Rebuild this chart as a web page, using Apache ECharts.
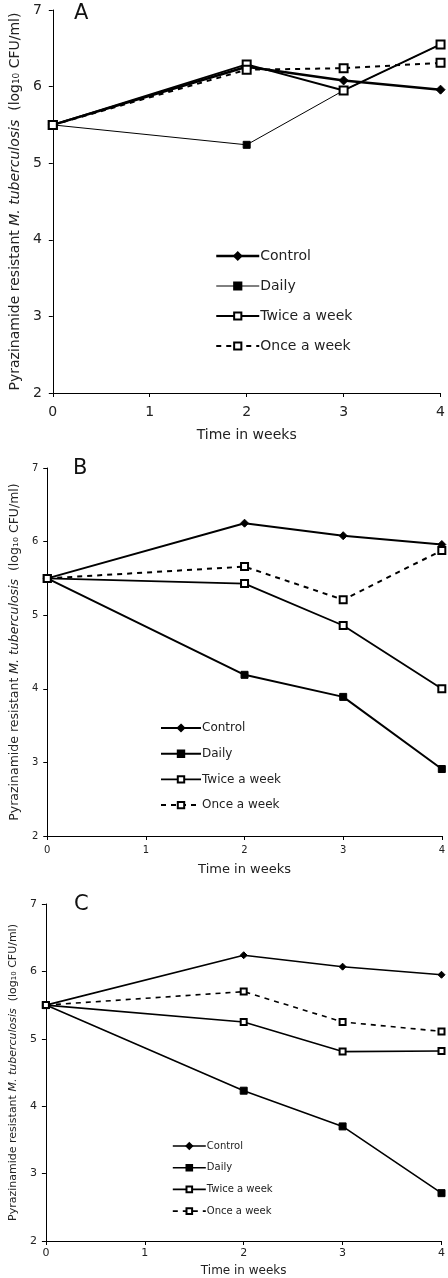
<!DOCTYPE html>
<html><head><meta charset="utf-8">
<script src="https://cdn.jsdelivr.net/npm/echarts@6/dist/echarts.min.js"></script>
<style>html,body{margin:0;padding:0;background:#fff}#c{width:448px;height:1278px}</style>
</head><body><div id="c"></div>
<script>
const weeks = [0, 2, 3, 4];
const xTicks = [0, 1, 2, 3, 4];
const seriesNames = ['Control', 'Daily', 'Twice a week', 'Once a week'];
// Panel A
const A_control = [5.5, 6.26, 6.08, 5.96];
const A_daily   = [5.5, 5.24, 5.95, 6.55];
const A_twice   = [5.5, 6.29, 5.95, 6.55];
const A_once    = [5.5, 6.22, 6.24, 6.31];
// Panel B
const B_control = [5.5, 6.25, 6.08, 5.96];
const B_daily   = [5.5, 4.19, 3.89, 2.91];
const B_twice   = [5.5, 5.43, 4.86, 4.0];
const B_once    = [5.5, 5.66, 5.21, 5.88];
// Panel C
const C_control = [5.5, 6.24, 6.07, 5.95];
const C_daily   = [5.5, 4.23, 3.70, 2.71];
const C_twice   = [5.5, 5.25, 4.81, 4.82];
const C_once    = [5.5, 5.70, 5.25, 5.11];

const panels = [
  {label:'A', data:[A_control,A_daily,A_twice,A_once], grid:{left:48,top:10,width:393,height:383},
   tick:14, name:14, yname:14, nameGapX:35, nameGapY:23, labMargin:12, yMargin:11,
   lw:[2.5,1,2,2], sym:[9,7,8,8], leg:{left:215,top:249,w:43,h:9,gap:16,font:14}, lab:{x:74,y:3,f:21}},
  {label:'B', data:[B_control,B_daily,B_twice,B_once], grid:{left:39,top:468,width:404,height:368},
   tick:10, name:13, yname:12.5, nameGapX:27, nameGapY:17, labMargin:9, yMargin:9,
   lw:[2,2,1.8,2], sym:[8,7,7,7], leg:{left:160,top:722,w:40,h:8,gap:13.7,font:12}, lab:{x:73,y:458,f:21}},
  {label:'C', data:[C_control,C_daily,C_twice,C_once], grid:{left:38,top:904,width:406,height:339},
   tick:11, name:12, yname:11, nameGapX:24, nameGapY:19, labMargin:7, yMargin:9,
   lw:[1.6,1.6,1.6,1.6], sym:[7,7,6,6], leg:{left:172,top:1141,w:33,h:7,gap:11.7,font:10}, lab:{x:74,y:894,f:21}}
];

const symbols = ['diamond','rect','emptyRect','emptyRect'];
const FONT = 'DejaVu Sans';
const opt = {backgroundColor:'#fff', animation:false, grid:[], xAxis:[], yAxis:[], series:[], legend:[], graphic:[]};

panels.forEach((p, i) => {
  opt.grid.push(Object.assign({containLabel:false}, p.grid));
  opt.xAxis.push({type:'value', gridIndex:i, min:0, max:4, interval:1,
    name:'Time in weeks', nameLocation:'middle', nameGap:p.nameGapX,
    nameTextStyle:{fontFamily:FONT, fontSize:p.name, color:'#222'},
    axisLine:{show:true, onZero:false, lineStyle:{color:'#000', width:1}},
    axisTick:{show:true, length:4, lineStyle:{color:'#000'}},
    axisLabel:{fontFamily:FONT, fontSize:p.tick, color:'#222', margin:p.labMargin, formatter:v => xTicks.includes(v) ? String(v) : ''},
    splitLine:{show:false}});
  opt.yAxis.push({type:'value', gridIndex:i, min:2, max:7, interval:1,
    name:'{a|Pyrazinamide resistant }{i|M. tuberculosis}{a|  (log₁₀ CFU/ml)}',
    nameLocation:'middle', nameGap:p.nameGapY, nameRotate:90,
    nameTextStyle:{fontFamily:FONT, fontSize:p.yname, color:'#222',
      rich:{a:{fontFamily:FONT, fontSize:p.yname, color:'#222'}, i:{fontFamily:FONT, fontSize:p.yname, fontStyle:'italic', color:'#222'}}},
    axisLine:{show:true, lineStyle:{color:'#000', width:1}},
    axisTick:{show:true, length:4, lineStyle:{color:'#000'}},
    axisLabel:{fontFamily:FONT, fontSize:p.tick, color:'#222', margin:p.yMargin},
    splitLine:{show:false}});
  const legData = [];
  seriesNames.forEach((n, k) => {
    const ls = {color:'#000', width:p.lw[k], type: k === 3 ? [5,5] : 'solid'};
    opt.series.push({type:'line', name:n, xAxisIndex:i, yAxisIndex:i,
      data: weeks.map((w, j) => [w, p.data[k][j]]),
      symbol:symbols[k], symbolSize:p.sym[k], showSymbol:true,
      lineStyle:ls, itemStyle:{color:'#000', borderColor:'#000', borderWidth:1}, z:2+k});
    legData.push({name:n, lineStyle:ls});
  });
  opt.legend.push({orient:'vertical', left:p.leg.left, top:p.leg.top, padding:0,
    itemWidth:p.leg.w, itemHeight:p.leg.h, itemGap:p.leg.gap, selectedMode:false,
    data:legData, textStyle:{fontFamily:FONT, fontSize:p.leg.font, color:'#222', padding:[0,0,0,-4]}});
  opt.graphic.push({type:'text', left:p.lab.x, top:p.lab.y,
    style:{text:p.label, font:'normal ' + p.lab.f + 'px "' + FONT + '"', fill:'#111'}});
});

const chart = echarts.init(document.getElementById('c'), null, {renderer:'canvas'});
chart.setOption(opt);
</script></body></html>
